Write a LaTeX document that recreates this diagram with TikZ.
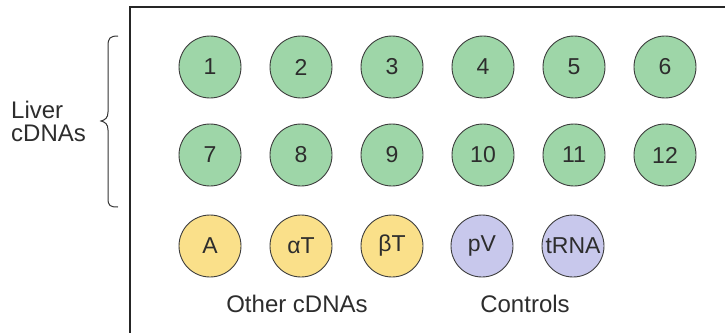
\documentclass[tikz,border=0pt]{standalone}
\usepackage{fontspec}
\setmainfont{Liberation Sans}
\definecolor{dotgreen}{RGB}{158,214,168}
\definecolor{dotyellow}{RGB}{250,224,138}
\definecolor{dotblue}{RGB}{200,200,236}
\definecolor{rimgray}{RGB}{60,60,60}
\definecolor{inkgray}{RGB}{45,45,45}
\begin{document}
\begin{tikzpicture}[x=1pt,y=-1pt,
  dot/.style={circle,draw=rimgray,line width=0.9pt,minimum size=62pt,inner sep=0pt,
              font=\fontsize{23}{26}\selectfont,text=inkgray},
  liver/.style={dot,fill=dotgreen},
  other/.style={dot,fill=dotyellow},
  ctrl/.style={dot,fill=dotblue},
  caption/.style={font=\fontsize{24}{26}\selectfont,text=inkgray,inner sep=0pt}]
\useasboundingbox (0,0) rectangle (725,332);
% membrane outline (continues beyond the page)
\draw[line width=1.8pt,black!85] (130,345) -- (130,7) -- (740,7);
% liver cDNA spots
\foreach \n [count=\i] in {1,...,6}{
  \node[liver] (s\n) at ({210+91*(\i-1)},67) {\n};}
\foreach \n [count=\i] in {7,...,12}{
  \node[liver] (s\n) at ({210+91*(\i-1)},155) {\n};}
% other cDNAs and controls
\node[other] (sA)  at (210,246) {A};
\node[other] (saT) at (301,246) {αT};
\node[other] (sbT) at (392,246) {βT};
\node[ctrl]  (spV) at (482,246) {pV};
\node[ctrl] (stRNA) at (573,246) {tRNA};
% group captions
\node[caption] (lother) at (297,304) {Other cDNAs};
\node[caption] (lctrl)  at (525,304) {Controls};
\node[caption,align=left,anchor=west] (lliver) at (11,121) {Liver\\[-3pt]cDNAs};
% brace grouping the liver rows
\draw[line width=1pt,black!80]
  (118,36) .. controls (110,36) and (108,38) .. (108,46) -- (108,112)
  .. controls (108,118) and (105,120) .. (101,121)
  .. controls (105,122) and (108,124) .. (108,130) -- (108,198)
  .. controls (108,206) and (110,207) .. (118,207);
\end{tikzpicture}
\end{document}
